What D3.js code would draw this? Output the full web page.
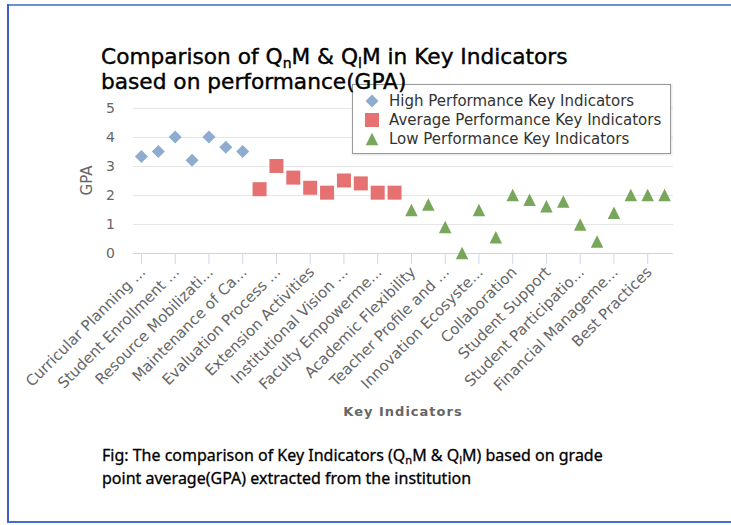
<!DOCTYPE html>
<html>
<head>
<meta charset="utf-8">
<style>
  body { margin: 0; background: #fff; }
  svg { display: block; }
  svg text { font-family: "DejaVu Sans", Verdana, sans-serif; }
</style>
</head>
<body>
<svg width="731" height="525"></svg>
<script src="https://d3js.org/d3.v7.min.js"></script>
<script>

    // 32 key indicators, in the order they are plotted
    var categories = [
        "Curricular Planning and Implementation", "Feedback System", "Student Enrollment and Profile",
        "Teaching-Learning Process", "Resource Mobilization for Research", "Physical Facilities",
        "Maintenance of Campus Infrastructure",
        "Catering to Student Diversity", "Evaluation Process and Reforms", "Student Satisfaction Survey",
        "Extension Activities", "IT Infrastructure", "Institutional Vision and Leadership",
        "Strategy Development and Deployment", "Faculty Empowerment Strategies", "Internal Quality Assurance System",
        "Academic Flexibility", "Curriculum Enrichment", "Teacher Profile and Quality",
        "Student Performance and Learning Outcomes", "Innovation Ecosystem", "Research Publications and Awards",
        "Collaboration", "Library as a Learning Resource", "Student Support", "Student Progression",
        "Student Participation and Activities", "Alumni Engagement", "Financial Management and Resource Mobilization",
        "Institutional Values and Social Responsibilities", "Best Practices", "Institutional Distinctiveness"
    ];

    // only every second category gets a label on the axis
    var tickLabels = [
        "Curricular Planning ...", "Student Enrollment ...", "Resource Mobilizati...", "Maintenance of Ca...",
        "Evaluation Process ...", "Extension Activities", "Institutional Vision ...", "Faculty Empowerme...",
        "Academic Flexibility", "Teacher Profile and ...", "Innovation Ecosyste...", "Collaboration",
        "Student Support", "Student Participatio...", "Financial Manageme...", "Best Practices"
    ];

    var highValues = [3.33, 3.5, 4.0, 3.2, 4.0, 3.65, 3.5];
    var averageValues = [2.2, 3.0, 2.6, 2.25, 2.08, 2.5, 2.4, 2.08, 2.08];
    var lowValues = [1.48, 1.67, 0.9, 0, 1.48, 0.54, 2.0, 1.84, 1.61, 1.78, 0.98, 0.4, 1.39, 2.0, 2.0, 2.0];

    var seriesNames = ["High Performance Key Indicators", "Average Performance Key Indicators", "Low Performance Key Indicators"];
    var seriesColors = ["#8eabd0", "#e57171", "#78a65a"];
    var yTicks = [0, 1, 2, 3, 4, 5];

    var svg = d3.select("svg"),
        margin = {top: 108, right: 58, bottom: 272, left: 133},
        width = +svg.attr("width") - margin.left - margin.right,
        height = +svg.attr("height") - margin.top - margin.bottom;

    // page frame
    svg.append("line").attr("x1", 8).attr("x2", 731).attr("y1", 5).attr("y2", 5)
        .attr("stroke", "#6f8fcf").attr("stroke-width", 2);
    svg.append("line").attr("x1", 8).attr("x2", 8).attr("y1", 4).attr("y2", 523)
        .attr("stroke", "#3d5fc4").attr("stroke-width", 2);
    svg.append("line").attr("x1", 7).attr("x2", 731).attr("y1", 522).attr("y2", 522)
        .attr("stroke", "#4a6ccc").attr("stroke-width", 2);

    var g = svg.append("g").attr("transform", "translate(" + margin.left + "," + margin.top + ")");

    var x = d3.scaleBand().domain(categories).range([0, width]);
    var y = d3.scaleLinear().domain([0, 5]).range([height, 0]);

    // grid
    g.append("g")
        .selectAll("line")
        .data(yTicks.filter(function(d) { return d > 0; }))
        .join("line")
        .attr("x1", 0).attr("x2", width)
        .attr("y1", function(d) { return y(d) + 0.5; })
        .attr("y2", function(d) { return y(d) + 0.5; })
        .attr("stroke", "#e6e6e6");

    // y axis
    var yAxis = g.append("g")
        .attr("transform", "translate(-18,0)")
        .call(d3.axisLeft(y).tickValues(yTicks).tickFormat(d3.format("d")).tickSize(0).tickPadding(0))
        .attr("font-family", null)
        .attr("font-size", null);
    yAxis.select(".domain").remove();
    yAxis.selectAll("text")
        .attr("fill", "#666")
        .style("font-size", "14px");

    g.append("text")
        .attr("transform", "translate(-46," + (height / 2) + ") rotate(-90)")
        .attr("text-anchor", "middle")
        .attr("dy", "0.35em")
        .attr("fill", "#666")
        .style("font-size", "15px")
        .text("GPA");

    // x axis
    var shown = categories.filter(function(d, i) { return i % 2 === 0; });
    var xAxis = g.append("g")
        .attr("transform", "translate(0," + height + ")")
        .call(d3.axisBottom(x).tickValues(shown).tickSize(11)
            .tickFormat(function(d) { return tickLabels[shown.indexOf(d)]; }))
        .attr("font-family", null)
        .attr("font-size", null);
    xAxis.select(".domain")
        .attr("d", "M0,0.5H" + width)
        .attr("stroke", "#ccd6eb");
    xAxis.selectAll(".tick line").attr("stroke", "#ccd6eb");
    xAxis.selectAll(".tick text")
        .attr("fill", "#666")
        .style("font-size", "15px")
        .attr("y", 0)
        .attr("dy", 0)
        .attr("transform", "translate(5,20) rotate(-45)")
        .style("text-anchor", "end");

    g.append("text")
        .attr("x", width / 2)
        .attr("y", height + 163)
        .attr("text-anchor", "middle")
        .attr("fill", "#666")
        .style("font-size", "13px")
        .style("font-weight", "bold")
        .style("letter-spacing", "1px")
        .text("Key Indicators");

    // markers
    var diamond = { draw: function(c, size) { var r = Math.sqrt(size) / 2; c.moveTo(0, -r); c.lineTo(r, 0); c.lineTo(0, r); c.lineTo(-r, 0); c.closePath(); } };
    var square = { draw: function(c, size) { var r = Math.sqrt(size) / 2; c.rect(-r, -r, 2 * r, 2 * r); } };
    var triangle = { draw: function(c, size) { var r = Math.sqrt(size) / 2; c.moveTo(0, -r); c.lineTo(r, r); c.lineTo(-r, r); c.closePath(); } };
    var symbols = [d3.symbol(diamond, 169), d3.symbol(square, 196), d3.symbol(triangle, 156)];

    var series = [highValues, averageValues, lowValues];
    var offset = 0;
    series.forEach(function(values, s) {
        var start = offset;
        g.append("g")
            .selectAll("path")
            .data(values)
            .join("path")
            .attr("transform", function(d, i) {
                return "translate(" + (x(categories[start + i]) + x.bandwidth() / 2) + "," + y(d) + ")";
            })
            .attr("d", symbols[s])
            .attr("fill", seriesColors[s]);
        offset += values.length;
    });

    // legend
    var legend = svg.append("g").attr("transform", "translate(352,84)");
    legend.append("rect")
        .attr("x", 1).attr("y", 1).attr("width", 318).attr("height", 69)
        .attr("fill", "none").attr("stroke", "#000").attr("stroke-opacity", 0.08).attr("stroke-width", 3);
    legend.append("rect")
        .attr("x", 0.5).attr("y", 0.5).attr("width", 318).attr("height", 69)
        .attr("fill", "#fff").attr("stroke", "#999");
    var item = legend.selectAll(".item")
        .data(seriesNames)
        .join("g")
        .attr("class", "item")
        .attr("transform", function(d, i) { return "translate(0," + (17 + i * 19) + ")"; });
    item.append("path")
        .attr("transform", "translate(20,0)")
        .attr("d", function(d, i) { return symbols[i](); })
        .attr("fill", function(d, i) { return seriesColors[i]; });
    item.append("text")
        .attr("x", 37)
        .attr("dy", "0.36em")
        .attr("fill", "#333")
        .style("font-size", "15px")
        .text(function(d) { return d; });

    // title
    var title = svg.append("text")
        .attr("fill", "#000")
        .attr("stroke", "#000")
        .attr("stroke-width", 0.4)
        .style("font-size", "21.7px");
    var t1 = title.append("tspan").attr("x", 101).attr("y", 64);
    t1.append("tspan").text("Comparison of Q");
    t1.append("tspan").attr("dy", 4).style("font-size", "14px").text("n");
    t1.append("tspan").attr("dy", -4).text("M & Q");
    t1.append("tspan").attr("dy", 4).style("font-size", "14px").text("l");
    t1.append("tspan").attr("dy", -4).text("M in Key Indicators");
    title.append("tspan").attr("x", 101).attr("y", 89).text("based on performance(GPA)");

    // caption
    var cap = svg.append("text")
        .attr("fill", "#000")
        .attr("stroke", "#000")
        .attr("stroke-width", 0.3)
        .style("font-family", "'Noto Sans', sans-serif")
        .style("font-size", "16px");
    var c1 = cap.append("tspan").attr("x", 102).attr("y", 461);
    c1.append("tspan").text("Fig: The comparison of Key Indicators (Q");
    c1.append("tspan").attr("dy", 3).style("font-size", "11px").text("n");
    c1.append("tspan").attr("dy", -3).text("M & Q");
    c1.append("tspan").attr("dy", 3).style("font-size", "11px").text("l");
    c1.append("tspan").attr("dy", -3).text("M) based on grade");
    cap.append("tspan").attr("x", 102).attr("y", 484).text("point average(GPA) extracted from the institution");

</script>
</body>
</html>
